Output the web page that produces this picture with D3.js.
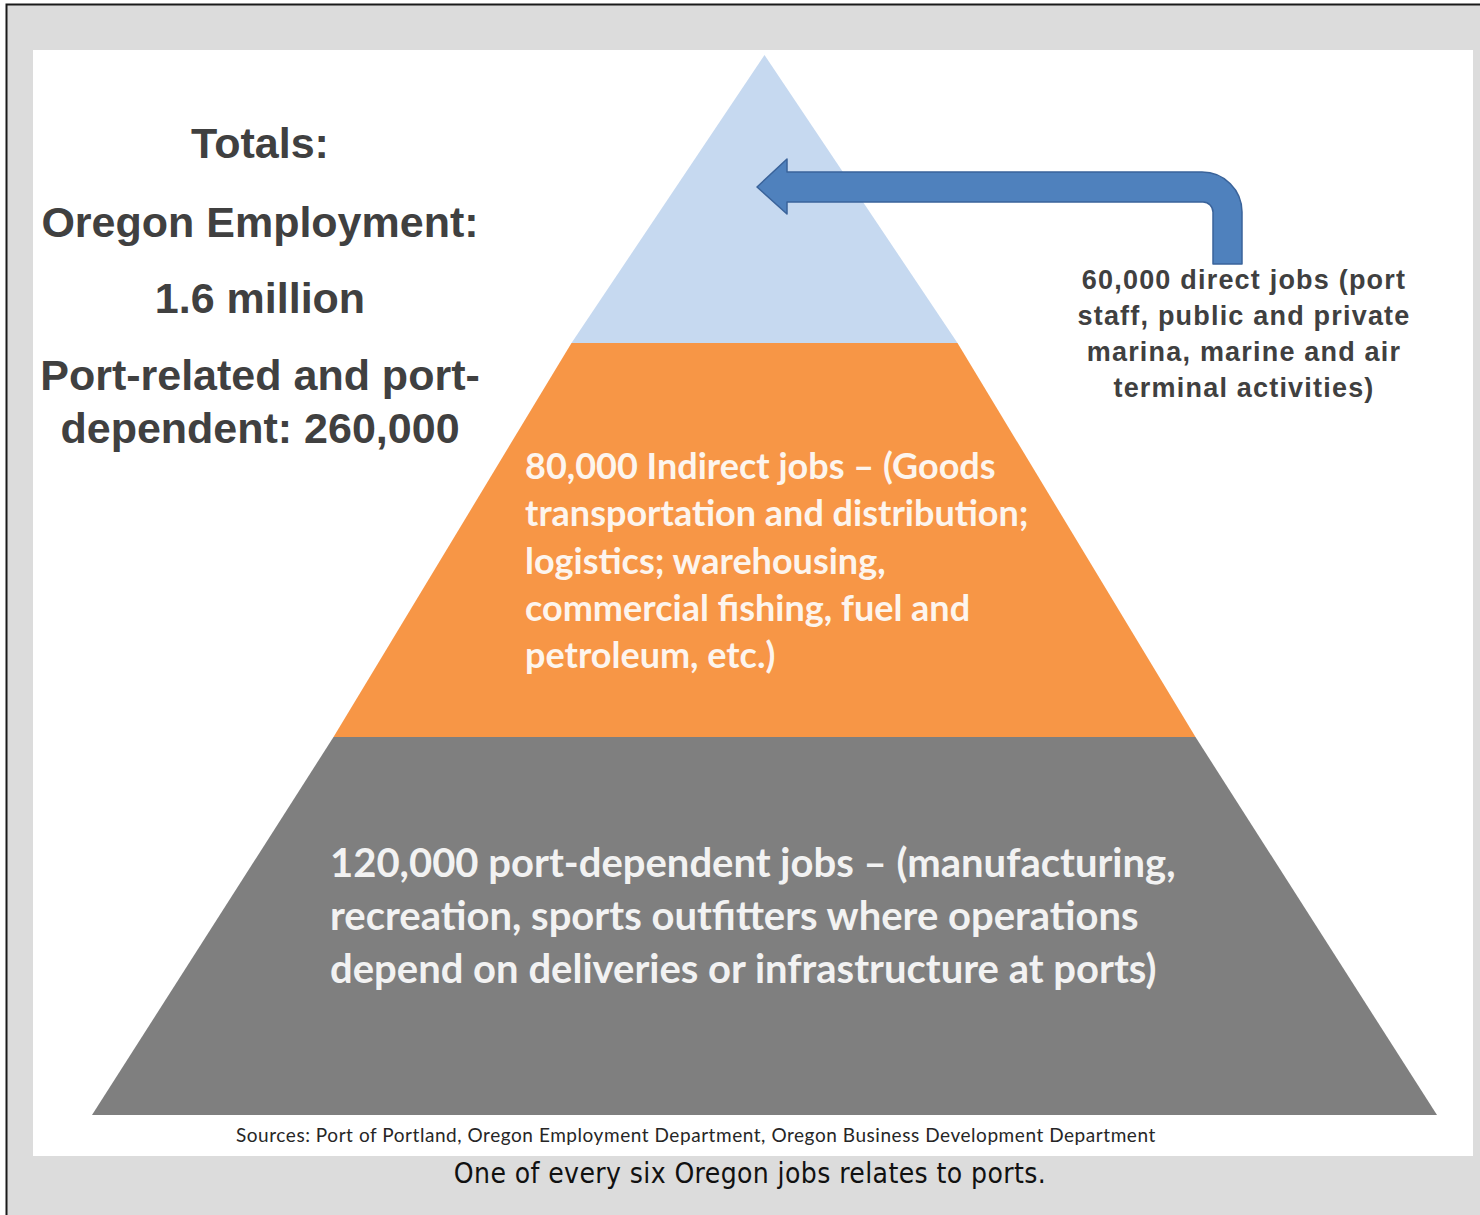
<!DOCTYPE html>
<html>
<head>
<meta charset="utf-8">
<script src="https://cdn.jsdelivr.net/npm/d3@7"></script>
<style>
  body { margin: 0; background: #fff; overflow: hidden; }
  svg { display: block; }
</style>
</head>
<body>
<script>
// tiers, top to bottom
var tiers = ["direct", "indirect", "dependent"];
var jobs = [60000, 80000, 120000];
var tierColors = ["#c6d9f0", "#f79646", "#7f7f7f"];

var totalsLines = ["Totals:", "Oregon Employment:", "1.6 million", "Port-related and port-", "dependent: 260,000"];
var directLines = ["60,000 direct jobs (port", "staff, public and private", "marina, marine and air", "terminal activities)"];
var indirectLines = ["80,000 Indirect jobs \u2013 (Goods", "transportation and distribution;", "logistics; warehousing,", "commercial fishing, fuel and", "petroleum, etc.)"];
var dependentLines = ["120,000 port-dependent jobs \u2013 (manufacturing,", "recreation, sports outfitters where operations", "depend on deliveries or infrastructure at ports)"];
var sourceText = "Sources: Port of Portland, Oregon Employment Department, Oregon Business Development Department";
var caption = "One of every six Oregon jobs relates to ports.";

var width = 1480;
var height = 1215;

var svg = d3.select("body").append("svg")
    .attr("width", width)
    .attr("height", height);

// outer frame and white panel
svg.append("rect")
    .attr("x", 6.5).attr("y", 4.5)
    .attr("width", width + 40).attr("height", height + 40)
    .attr("fill", "#dcdcdc")
    .attr("stroke", "#1a1a1a")
    .attr("stroke-width", 2);

svg.append("rect")
    .attr("x", 33).attr("y", 50)
    .attr("width", 1440).attr("height", 1106)
    .attr("fill", "#ffffff");

// pyramid geometry
var cx = 764.5;
var yScale = d3.scaleLinear()
    .domain([0, 1, 2, 3])
    .range([55, 343, 737, 1115]);
var halfWidth = d3.scaleLinear()
    .domain([55, 343, 737, 1115])
    .range([0, 193, 431, 672.5]);

svg.append("g")
    .attr("class", "pyramid")
    .selectAll("path")
    .data(jobs)
    .join("path")
        .attr("d", function(d, i) {
            var y0 = yScale(i), y1 = yScale(i + 1);
            var w0 = halfWidth(y0), w1 = halfWidth(y1);
            return "M" + (cx - w0) + "," + y0 +
                "L" + (cx + w0) + "," + y0 +
                "L" + (cx + w1) + "," + y1 +
                "L" + (cx - w1) + "," + y1 + "Z";
        })
        .attr("fill", function(d, i) { return tierColors[i]; });

// bent arrow pointing into the top tier
var arrow = d3.path();
arrow.moveTo(757, 187);
arrow.lineTo(787, 159);
arrow.lineTo(787, 172);
arrow.lineTo(1202, 172);
arrow.arcTo(1242, 172, 1242, 212, 40);
arrow.lineTo(1242, 264);
arrow.lineTo(1213, 264);
arrow.lineTo(1213, 212);
arrow.arcTo(1213, 202, 1203, 202, 10);
arrow.lineTo(787, 202);
arrow.lineTo(787, 214);
arrow.closePath();

svg.append("path")
    .attr("d", arrow.toString())
    .attr("fill", "#4f81bd")
    .attr("stroke", "#3a639a")
    .attr("stroke-width", 1.5)
    .attr("stroke-linejoin", "round");

// totals block
var totalsY = [158, 237, 313, 390, 443];
svg.append("g")
    .attr("class", "totals")
    .selectAll("text")
    .data(totalsLines)
    .join("text")
        .text(function(d) { return d; })
        .attr("x", 260)
        .attr("y", function(d, i) { return totalsY[i]; })
        .attr("text-anchor", "middle")
        .attr("font-family", "'Liberation Sans', Arial, sans-serif")
        .attr("font-weight", "bold")
        .attr("font-size", 43)
        .attr("fill", "#404040");

// direct jobs note
svg.append("g")
    .attr("class", "directNote")
    .selectAll("text")
    .data(directLines)
    .join("text")
        .text(function(d) { return d; })
        .attr("x", 1244)
        .attr("y", function(d, i) { return 289 + i * 36; })
        .attr("text-anchor", "middle")
        .attr("font-family", "'Liberation Sans', Arial, sans-serif")
        .attr("font-weight", "bold")
        .attr("font-size", 27)
        .attr("letter-spacing", 1.2)
        .attr("fill", "#404040");

// indirect tier text
svg.append("g")
    .attr("class", "indirectText")
    .selectAll("text")
    .data(indirectLines)
    .join("text")
        .text(function(d) { return d; })
        .attr("x", 525)
        .attr("y", function(d, i) { return 479 + i * 47.3; })
        .attr("font-family", "Lato, sans-serif")
        .attr("font-weight", "bold")
        .attr("font-size", 36)
        .attr("fill", "#fdf5ee");

// port-dependent tier text
svg.append("g")
    .attr("class", "dependentText")
    .selectAll("text")
    .data(dependentLines)
    .join("text")
        .text(function(d) { return d; })
        .attr("x", 330)
        .attr("y", function(d, i) { return 877 + i * 53; })
        .attr("font-family", "Lato, sans-serif")
        .attr("font-weight", "bold")
        .attr("font-size", 40)
        .attr("fill", "#f2f2f2");

// sources line
svg.append("text")
    .text(sourceText)
    .attr("x", 236)
    .attr("y", 1142)
    .attr("font-family", "Lato, sans-serif")
    .attr("font-size", 19)
    .attr("letter-spacing", 0.55)
    .attr("fill", "#262626");

// caption
svg.append("text")
    .text(caption)
    .attr("x", 750)
    .attr("y", 1183)
    .attr("text-anchor", "middle")
    .attr("font-family", "'Liberation Sans Narrow', 'DejaVu Sans Condensed', sans-serif")
    .attr("font-size", 28)
    .attr("letter-spacing", 0.4)
    .attr("fill", "#111111");
</script>
</body>
</html>
